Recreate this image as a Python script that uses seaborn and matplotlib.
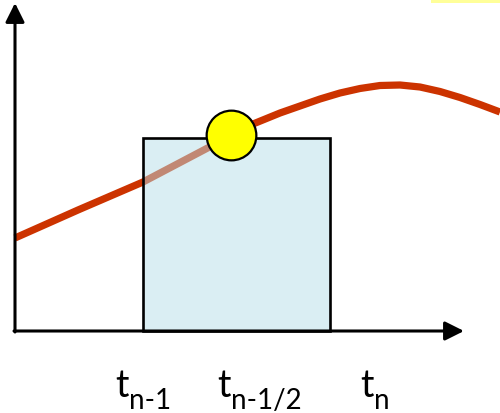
import matplotlib
matplotlib.use("Agg")
import matplotlib.pyplot as plt
import seaborn as sns
import pandas as pd
from matplotlib.patches import ArrowStyle

# ---- data (figure-pixel-like units, y measured upward from bottom) ----
curve_t = [15, 78, 143, 200, 253, 280, 300, 320, 340, 360, 380, 400, 420, 440, 460, 480, 500]
curve_v = [175, 203, 231, 261, 289, 300, 307, 314, 320, 324.5, 327.5, 328, 326, 321.5, 315.5, 308.5, 301]
interval = [143, 330]          # t_{n-1} .. t_n bar
bar_top = 275
mid_t = [230.5]
mid_v = [278.5]
labels_main = ["t", "t", "t"]
labels_sub = ["n-1", "n-1/2", "n"]
label_x = [115, 217, 360]
origin = (15, 82)

sns.set_theme(style="white")
plt.rcParams["font.family"] = ["Lato", "DejaVu Sans"]

fig = plt.figure(figsize=(5.0, 4.14), dpi=100)
ax = fig.add_axes([0, 0, 1, 1])
ax.set_xlim(0, 500)
ax.set_ylim(0, 414)
ax.set_axis_off()

# highlight strip top-right
ax.bar(431, 4, width=69, bottom=410, align="edge", color="#FFFF99", lw=0, zorder=1)

# curve
df = pd.DataFrame({"t": curve_t, "v": curve_v})
sns.lineplot(data=df, x="t", y="v", color="#CC3300", lw=5.2, ax=ax, zorder=2,
             sort=False, estimator=None)
for l in ax.lines:
    l.set_solid_capstyle("butt")
    l.set_solid_joinstyle("round")

# rectangle (midpoint rule bar)
ax.bar(interval[0], bar_top - origin[1], width=interval[1] - interval[0],
       bottom=origin[1], align="edge", facecolor=(183/255, 222/255, 232/255, 0.5),
       edgecolor="black", lw=1.9, zorder=3)

# axes arrows
style = ArrowStyle("-|>", head_length=0.8, head_width=0.4)
ax.annotate("", xy=(464, origin[1]), xytext=(origin[0] - 1, origin[1]),
            arrowprops=dict(arrowstyle=style, mutation_scale=14.4, lw=2.2,
                            color="black", shrinkA=0, shrinkB=0), zorder=4)
ax.annotate("", xy=(origin[0], 410), xytext=(origin[0], origin[1] - 1),
            arrowprops=dict(arrowstyle=style, mutation_scale=14.4, lw=2.2,
                            color="black", shrinkA=0, shrinkB=0), zorder=4)

# midpoint marker
sns.scatterplot(x=mid_t, y=mid_v, s=1280, color="#FFFF00", edgecolor="black",
                linewidth=1.6, ax=ax, zorder=5, legend=False)

# labels
for x, m, s in zip(label_x, labels_main, labels_sub):
    t = ax.text(x, 17, m, fontsize=27, ha="left", va="baseline", color="black")
    fig.canvas.draw()
    bb = t.get_window_extent().transformed(ax.transData.inverted())
    ax.text(bb.x1 + 1, 5, s, fontsize=20, ha="left", va="baseline", color="black")

fig.savefig("out.png", dpi=100)
